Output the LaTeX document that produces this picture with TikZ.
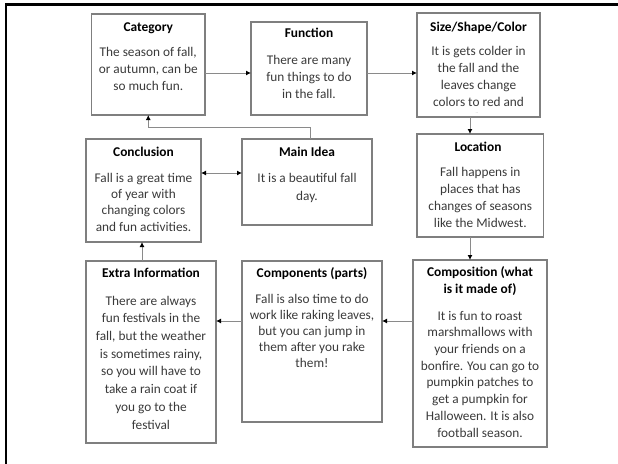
\documentclass[tikz,border=0pt]{standalone}
\usepackage{fontspec}
\setmainfont{Carlito}
\usetikzlibrary{arrows.meta}
\definecolor{boxline}{HTML}{7F7F7F}
\definecolor{bodytext}{HTML}{3A3A3A}
\definecolor{wireline}{HTML}{8A8A8A}
\tikzset{
  card/.style={draw=boxline, line width=1.3pt, inner sep=0pt, outer sep=0pt},
  % multi-line texts are placed by the baseline of their last line
  head/.style={anchor=base, inner sep=0pt, align=center, text=black,
               font=\fontsize{13.4}{17}\selectfont\bfseries},
  body/.style={anchor=base, inner sep=0pt, align=center, text=bodytext,
               font=\fontsize{13.3}{17}\selectfont},
  conn/.style={draw=wireline, line width=1pt, -{Latex[length=5pt,width=5pt,color=black]}},
  conn2/.style={draw=wireline, line width=1pt,
                {Latex[length=5pt,width=5pt,color=black]}-{Latex[length=5pt,width=5pt,color=black]}},
}
\begin{document}
\begin{tikzpicture}[x=1pt,y=-1pt]
\useasboundingbox (0,0) rectangle (618,463);

% page frame
\draw[line width=2.4pt, black] (6,470) -- (6,4.5) -- (625,4.5);

% ---- boxes ----
\node[card, minimum width=113.5pt, minimum height=101pt] (cat)  at (148.25,64.5) {};
\node[card, minimum width=116pt,   minimum height=93pt]  (fun)  at (309,68.5)    {};
\node[card, minimum width=123pt,   minimum height=104pt] (ssc)  at (478.5,65)    {};
\node[card, minimum width=115pt,   minimum height=103pt] (con)  at (143.5,190.5) {};
\node[card, minimum width=130pt,   minimum height=86pt]  (main) at (307,182)     {};
\node[card, minimum width=126.6pt, minimum height=103pt] (loc)  at (480.3,185.5) {};
\node[card, minimum width=130pt,   minimum height=182pt] (ext)  at (151,352)     {};
\node[card, minimum width=140pt,   minimum height=161pt] (cmp)  at (312,341.5)   {};
\node[card, minimum width=134pt,   minimum height=187pt] (cps)  at (480,353.5)   {};

% ---- texts ----
\node[head] (cat-h) at (148.25,31) {Category};
\node[body] (cat-b) at (148.25,90) {The season of fall,\\or autumn, can be\\so much fun.};

\node[head] (fun-h) at (309,37) {Function};
\node[body] (fun-b) at (309,98) {There are many\\fun things to do\\in the fall.};

\node[head] (ssc-h) at (478.5,31) {Size/Shape/Color};
\node[body, font=\fontsize{13.3}{16.7}\selectfont] (ssc-b) at (478.5,106)
  {It is gets colder in\\the fall and the\\leaves change\\colors to red and};
\node[inner sep=0pt, text=gray!70, font=\fontsize{5}{5}\selectfont] (ssc-d) at (477,113) {..};

\node[head] (con-h) at (143.5,156) {Conclusion};
\node[body, font=\fontsize{13.3}{16.3}\selectfont] (con-b) at (143.5,231)
  {Fall is a great time\\of year with\\changing colors\\and fun activities.};

\node[head] (main-h) at (307,156) {Main Idea};
\node[body, font=\fontsize{13.3}{18}\selectfont] (main-b) at (307,200) {It is a beautiful fall\\day.};

\node[head] (loc-h) at (478,151) {Location};
\node[body] (loc-b) at (480.3,227)
  {Fall happens in\\places that has\\changes of seasons\\like the Midwest.};

\node[head] (ext-h) at (151,277) {Extra Information};
\node[body, font=\fontsize{13.3}{17.7}\selectfont] (ext-b) at (151,429)
  {There are always\\fun festivals in the\\fall, but the weather\\is sometimes rainy,\\so you will have to\\take a rain coat if\\you go to the\\festival};

\node[head] (cmp-h) at (312,277) {Components (parts)};
\node[body, font=\fontsize{13.3}{15.8}\selectfont] (cmp-b) at (312,367)
  {Fall is also time to do\\work like raking leaves,\\but you can jump in\\them after you rake\\them!};

\node[head] (cps-h) at (480,293) {Composition (what\\is it made of)};
\node[body, font=\fontsize{13.3}{16.7}\selectfont] (cps-b) at (480,437)
  {It is fun to roast\\marshmallows with\\your friends on a\\bonfire. You can go to\\pumpkin patches to\\get a pumpkin for\\Halloween. It is also\\football season.};

% ---- connector rows and columns ----
\coordinate (rowtop) at (0,73);
\coordinate (rowmid) at (0,173);
\coordinate (rowbot) at (0,321);
\coordinate (colr)   at (470,0);
\coordinate (colx)   at (142,0);

\draw[conn] (rowtop -| cat.east) -- (rowtop -| fun.west);
\draw[conn] (rowtop -| fun.east) -- (rowtop -| ssc.west);
\draw[conn] (colr |- ssc.south) -- (colr |- loc.north);
\draw[conn] (colr |- loc.south) -- (colr |- cps.north);
\draw[conn] (rowbot -| cps.west) -- (rowbot -| cmp.east);
\draw[conn] (rowbot -| cmp.west) -- (rowbot -| ext.east);
\draw[conn] (colx |- ext.north) -- (colx |- con.south);
\draw[conn2] (rowmid -| con.east) -- (rowmid -| main.west);
\draw[conn] ([xshift=3.5pt]main.north) -- ++(0,-12) -| (cat.south);
\end{tikzpicture}
\end{document}
